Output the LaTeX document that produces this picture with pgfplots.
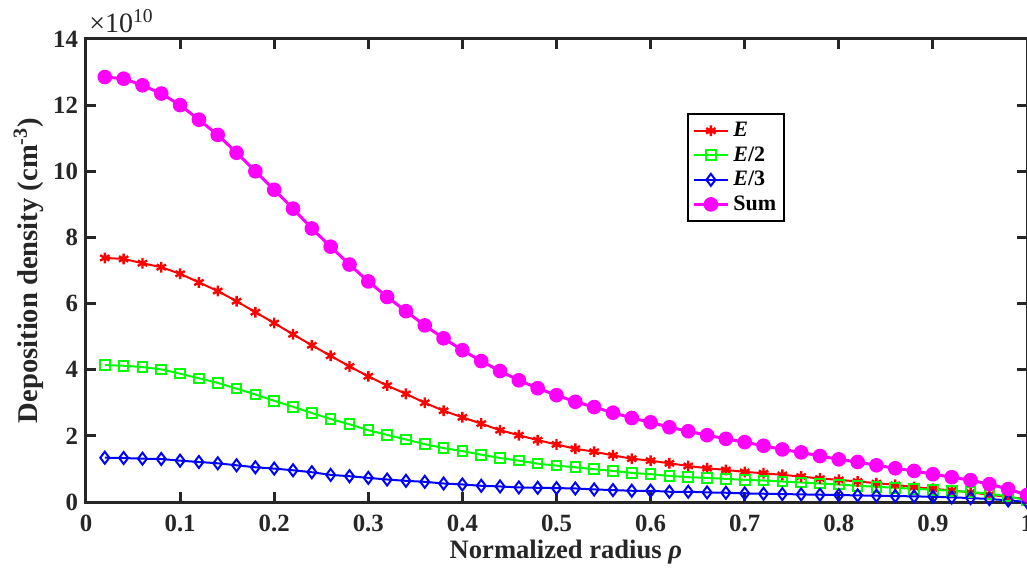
\documentclass[border=0pt]{standalone}
\usepackage{pgfplots}
\pgfplotsset{compat=1.18}
\usepackage{pgfplotstable}
\usetikzlibrary{calc}
\usepackage{fontspec}
\setmainfont{Liberation Serif}
\definecolor{axgray}{HTML}{262626}
\definecolor{mygreen}{HTML}{00FF00}
\definecolor{mymag}{HTML}{FF00FF}

\pgfplotstableread{
x     E     Eh    Et    S
0.02  7.38  4.14  1.34  12.85
0.04  7.35  4.12  1.33  12.80
0.06  7.22  4.08  1.31  12.60
0.08  7.10  4.01  1.30  12.35
0.10  6.90  3.88  1.25  12.00
0.12  6.64  3.74  1.21  11.56
0.14  6.38  3.60  1.17  11.10
0.16  6.07  3.43  1.11  10.56
0.18  5.74  3.25  1.05  10.00
0.20  5.41  3.06  1.01  9.44
0.22  5.07  2.88  0.96  8.87
0.24  4.74  2.69  0.90  8.27
0.26  4.42  2.51  0.82  7.72
0.28  4.10  2.35  0.78  7.18
0.30  3.80  2.17  0.73  6.67
0.32  3.52  2.03  0.68  6.20
0.34  3.27  1.89  0.64  5.77
0.36  3.00  1.75  0.61  5.34
0.38  2.76  1.63  0.56  4.95
0.40  2.56  1.54  0.53  4.59
0.42  2.37  1.43  0.49  4.26
0.44  2.17  1.33  0.47  3.96
0.46  2.02  1.25  0.44  3.68
0.48  1.87  1.16  0.43  3.44
0.50  1.74  1.10  0.42  3.23
0.52  1.61  1.05  0.41  3.03
0.54  1.52  0.99  0.38  2.87
0.56  1.41  0.94  0.36  2.70
0.58  1.31  0.88  0.34  2.54
0.60  1.25  0.84  0.34  2.41
0.62  1.17  0.79  0.31  2.26
0.64  1.09  0.75  0.31  2.14
0.66  1.02  0.73  0.29  2.02
0.68  0.97  0.70  0.28  1.91
0.70  0.91  0.67  0.26  1.81
0.72  0.87  0.65  0.25  1.70
0.74  0.82  0.62  0.24  1.59
0.76  0.77  0.59  0.23  1.50
0.78  0.71  0.56  0.22  1.39
0.80  0.67  0.53  0.21  1.29
0.82  0.62  0.49  0.20  1.21
0.84  0.57  0.46  0.19  1.11
0.86  0.52  0.43  0.18  1.02
0.88  0.45  0.40  0.17  0.94
0.90  0.40  0.37  0.16  0.84
0.92  0.35  0.34  0.14  0.75
0.94  0.29  0.30  0.12  0.66
0.96  0.22  0.25  0.09  0.54
0.98  0.15  0.17  0.05  0.39
1.00  0.09  0.05  0.00  0.21
}\data

\begin{document}
\begin{tikzpicture}
\begin{axis}[
  scale only axis,
  width=470.5pt, height=231.5pt,
  xmin=0, xmax=1, ymin=0, ymax=14,
  xtick={0,0.1,...,1.0},
  xticklabels={0,0.1,0.2,0.3,0.4,0.5,0.6,0.7,0.8,0.9,1},
  ytick={0,2,...,14},
  tick align=inside,
  major tick length=5pt,
  axis line style={axgray, line width=1.5pt},
  every tick/.style={axgray, line width=1.5pt},
  tick label style={font=\fontsize{12.4}{14}\selectfont\bfseries, text=axgray},
  xticklabel style={yshift=-3pt},
  yticklabel style={xshift=-0.5pt},
  /pgf/number format/assume math mode=true,
  xlabel={Normalized radius \textit{ρ}},
  ylabel={Deposition density (cm\textsuperscript{-3})},
  xlabel style={font=\fontsize{13.3}{16}\selectfont\bfseries, text=axgray,
    at={($(rel axis cs:0.51,0)+(0,-28pt)$)}, anchor=base, inner sep=0pt},
  ylabel style={font=\fontsize{14.3}{16}\selectfont\bfseries, text=axgray,
    at={($(rel axis cs:0,0.5)+(-21pt,0)$)}, anchor=south, inner sep=0pt, rotate=0},
  legend style={at={(0.639,0.84)}, anchor=north west,
    draw=black, line width=1pt, fill=white,
    font=\fontsize{11}{13}\selectfont\bfseries,
    inner sep=2pt, row sep=-0.5pt,
    cells={anchor=west}},
  legend cell align=left,
  clip=false,
]
\addplot[red, line width=1pt, mark=asterisk, mark size=2.7pt, mark options={line width=1.2pt}] table[x=x, y=E] {\data};
\addlegendentry{\textit{E}}
\addplot[mygreen, line width=1pt, mark=square, mark size=2.4pt, mark options={line width=1pt}] table[x=x, y=Eh] {\data};
\addlegendentry{\textit{E}/2}
\addplot[blue, line width=1pt, mark=diamond, mark size=3pt, mark options={line width=1pt}] table[x=x, y=Et] {\data};
\addlegendentry{\textit{E}/3}
\addplot[mymag, line width=1.5pt, mark=*, mark size=2.9pt, mark options={fill=mymag}] table[x=x, y=S] {\data};
\addlegendentry{Sum}
\node[anchor=base west, inner sep=0pt, font=\fontsize{14}{16}\selectfont, text=axgray] at ($(rel axis cs:0,1)+(1.5pt,3pt)$) {×10\textsuperscript{10}};
\coordinate (LL) at (rel axis cs:0,0);
\coordinate (UR) at (rel axis cs:1,1);
\end{axis}
\pgfresetboundingbox
\path ($(LL)+(-43pt,-38pt)$) rectangle ($(UR)+(0,19.5pt)$);
\end{tikzpicture}
\end{document}
